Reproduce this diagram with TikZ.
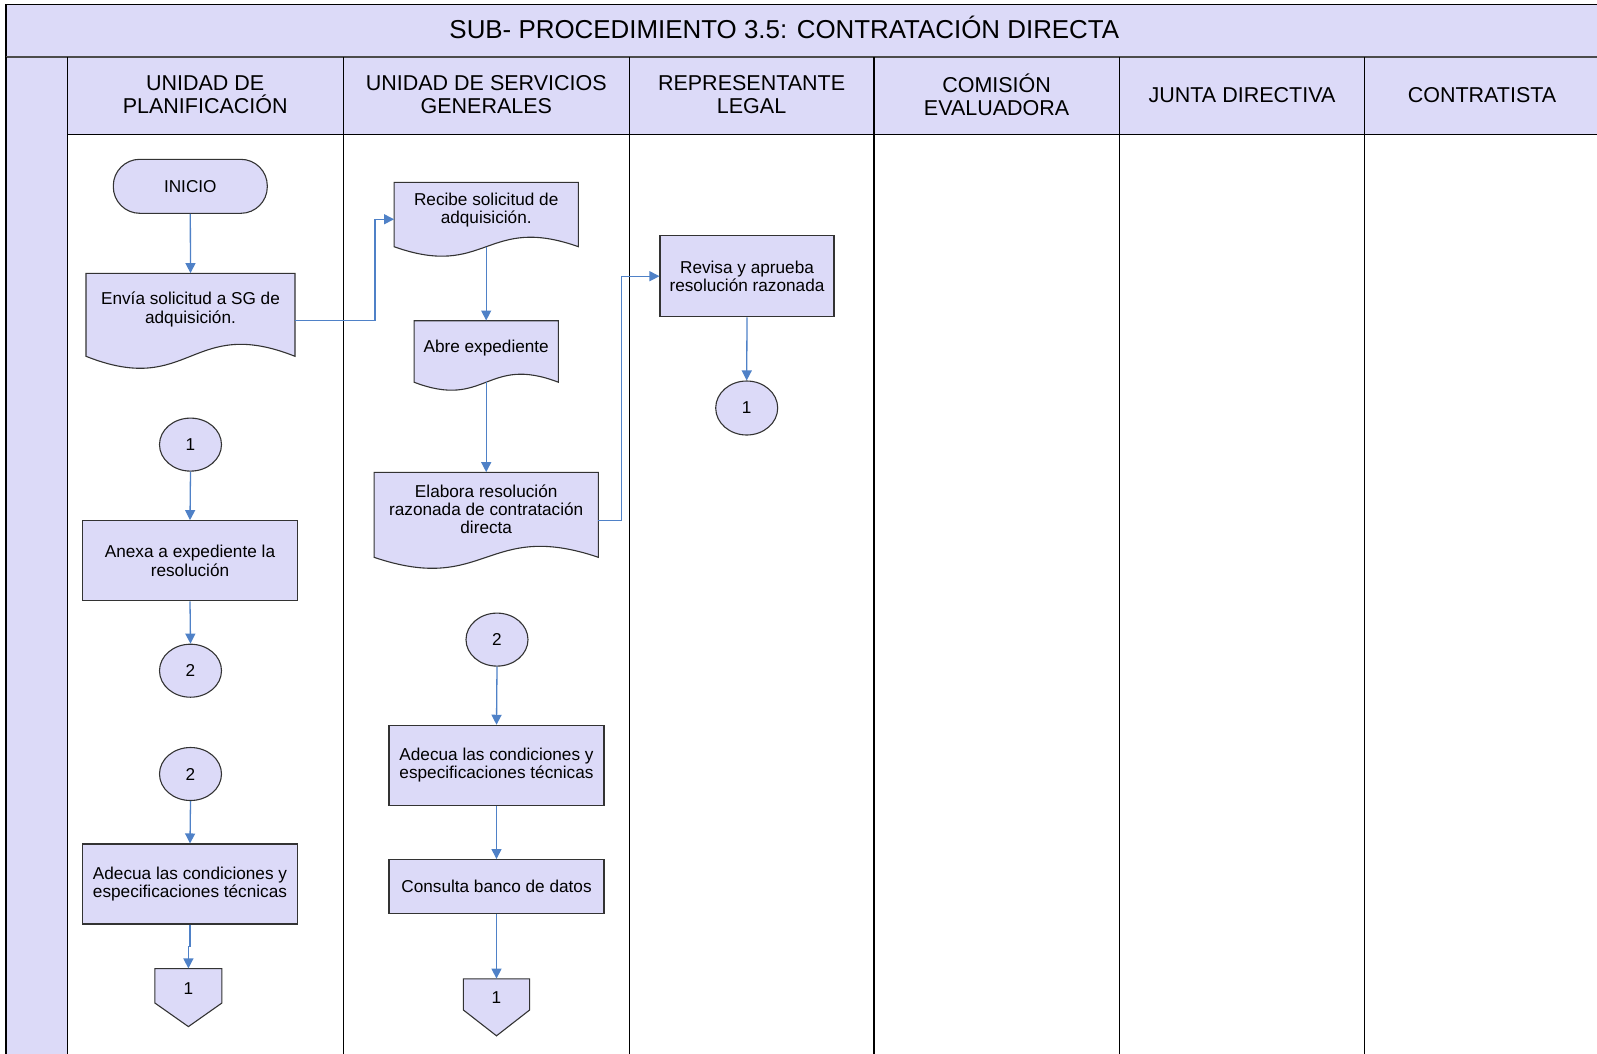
\documentclass[tikz,border=0pt]{standalone}
\usepackage{fontspec}
\setmainfont{Liberation Sans}
\usetikzlibrary{arrows.meta, calc, shapes.geometric}
\definecolor{lav}{HTML}{DCDAF8}
\definecolor{conn}{HTML}{4F81C7}
\tikzset{lane/.style={line width=1.2pt, black}}
\tikzset{box/.style={draw=black!80, line width=1.1pt, fill=lav}}
\tikzset{txt/.style={align=center, font=\fontsize{17.2}{18.3}\selectfont, inner sep=0pt}}
\tikzset{proc/.style={box, txt, minimum width=215, minimum height=80}}
\tikzset{conector/.style={box, txt, ellipse, minimum width=62, minimum height=53}}
\tikzset{flow/.style={conn, line width=1.3pt, -{Triangle[width=10pt,length=10pt]}}}
\tikzset{head/.style={align=center, font=\fontsize{21.5}{22.5}\selectfont}}
\newcommand{\documento}[8]{%
  \filldraw[box] ({#2-#4/2},#3) -- ({#2+#4/2},#3) -- ({#2+#4/2},{#3+#5+#6})
    .. controls (#2,{#3+#5+#6-3.46*#7}) and (#2,{#3+#5+#6+3.46*#7}) .. ({#2-#4/2},{#3+#5+#6}) -- cycle;
  \node[txt, minimum width=#4, minimum height={#5+4}] (#1) at (#2,{#3+#5/2+2}) {#8};
  \coordinate (#1-w) at ({#2-#4/2},{#3+(#5+#6+#7)/2});
  \coordinate (#1-e) at ({#2+#4/2},{#3+(#5+#6+#7)/2});
  \coordinate (#1-s) at (#2,{#3+#5+#6});
}
\newcommand{\offpage}[7]{%
  \filldraw[box] ({#2-#4/2},#3) -- ({#2+#4/2},#3) -- ({#2+#4/2},{#3+#5}) -- (#2,{#3+#5+#6}) -- ({#2-#4/2},{#3+#5}) -- cycle;
  \node[txt, minimum width=#4, minimum height={#5+6}] (#1) at (#2,{#3+#5/2+3}) {#7};
}
\begin{document}
\begin{tikzpicture}[x=1pt, y=-1pt]
	\useasboundingbox (0,0) rectangle (1597,1053);
	\clip (0,0) rectangle (1597,1053);
	\filldraw[fill=lav, draw=black, line width=1.2pt] (6,4.3) rectangle (1610,57);
	\fill[lav] (6,57) rectangle (1610,134.3);
	\fill[lav] (6,57) rectangle (67.2,1060);
	\draw[black!70, line width=2.5pt] (6,57) -- (1610,57);
	\draw[lane] (6,57) -- (6,1060);
	\draw[lane] (67.2,134.3) -- (1610,134.3);
	\foreach \x in {67.2, 343.2, 629.4, 873.9, 1119.3, 1364.8} { \draw[lane] (\x,57) -- (\x,1060); }
	\node[anchor=base, font=\fontsize{25.9}{28}\selectfont] (titulo) at (784.3,38.8) {SUB- PROCEDIMIENTO 3.5: CONTRATACIÓN DIRECTA};
	\foreach \x/\nombre [count=\i] in {205.2/{UNIDAD DE\\PLANIFICACIÓN}, 486.3/{UNIDAD DE SERVICIOS\\GENERALES}, 751.6/{REPRESENTANTE\\LEGAL}, 996.6/{COMISIÓN\\EVALUADORA}, 1242/{JUNTA DIRECTIVA}, 1482/{CONTRATISTA}}
		{ \node[head] (h\i) at (\x,94.7) {\nombre}; }

	\node[box, txt, rounded corners=26.5, minimum width=154, minimum height=54] (inicio) at (190.3,186.3) {INICIO};
	\documento{envia}{190.5}{273.3}{209}{68}{15}{12}{Envía solicitud a SG de\\adquisición.}
	\node[conector] (c1a) at (190.5,444.6) {1};
	\node[proc] (anexa) at (190,560.7) {Anexa a expediente la\\resolución};
	\node[conector] (c2a) at (190.5,670.7) {2};
	\node[conector] (c2b) at (190.5,774) {2};
	\node[proc] (adecua1) at (190,884) {Adecua las condiciones y\\especificaciones técnicas};
	\offpage{off1}{188.4}{968.6}{67}{34.4}{23.6}{1}

	\documento{recibe}{486.2}{182.3}{184.3}{51.4}{13}{9.5}{Recibe solicitud de\\adquisición.}
	\documento{abre}{486.2}{320.7}{144.3}{50}{11.5}{8}{Abre expediente}
	\documento{elabora}{486.2}{472.3}{224.3}{70}{15}{11}{Elabora resolución\\razonada de contratación\\directa}
	\node[conector] (c2c) at (497,639.6) {2};
	\node[proc] (adecua2) at (496.5,765.3) {Adecua las condiciones y\\especificaciones técnicas};
	\node[proc, minimum height=54] (consulta) at (496.5,886.6) {Consulta banco de datos};
	\offpage{off2}{496.5}{978.8}{66.2}{31.2}{25.8}{1}

	\node[proc, minimum width=174, minimum height=81] (revisa) at (747,276.2) {Revisa y aprueba\\resolución razonada};
	\node[conector, minimum height=54] (c1b) at (746.7,408) {1};

	\draw[flow] (inicio.south) -- (envia.north);
	\draw[flow] (envia-e) -- ++(80,0) |- (recibe-w);
	\draw[flow] (recibe-s) -- (abre.north);
	\draw[flow] (abre-s) -- (elabora.north);
	\draw[flow] (elabora-e) -- ++(23.4,0) |- (revisa.west);
	\draw[flow] (revisa.south) -- (c1b.north);
	\draw[flow] (c1a.south) -- (anexa.north);
	\draw[flow] (anexa.south) -- (c2a.north);
	\draw[flow] (c2b.south) -- (adecua1.north);
	\draw[flow] (adecua1.south) -- ++(0,22) -| (off1.north);
	\draw[flow] (c2c.south) -- (adecua2.north);
	\draw[flow] (adecua2.south) -- (consulta.north);
	\draw[flow] (consulta.south) -- (off2.north);
\end{tikzpicture}
\end{document}
